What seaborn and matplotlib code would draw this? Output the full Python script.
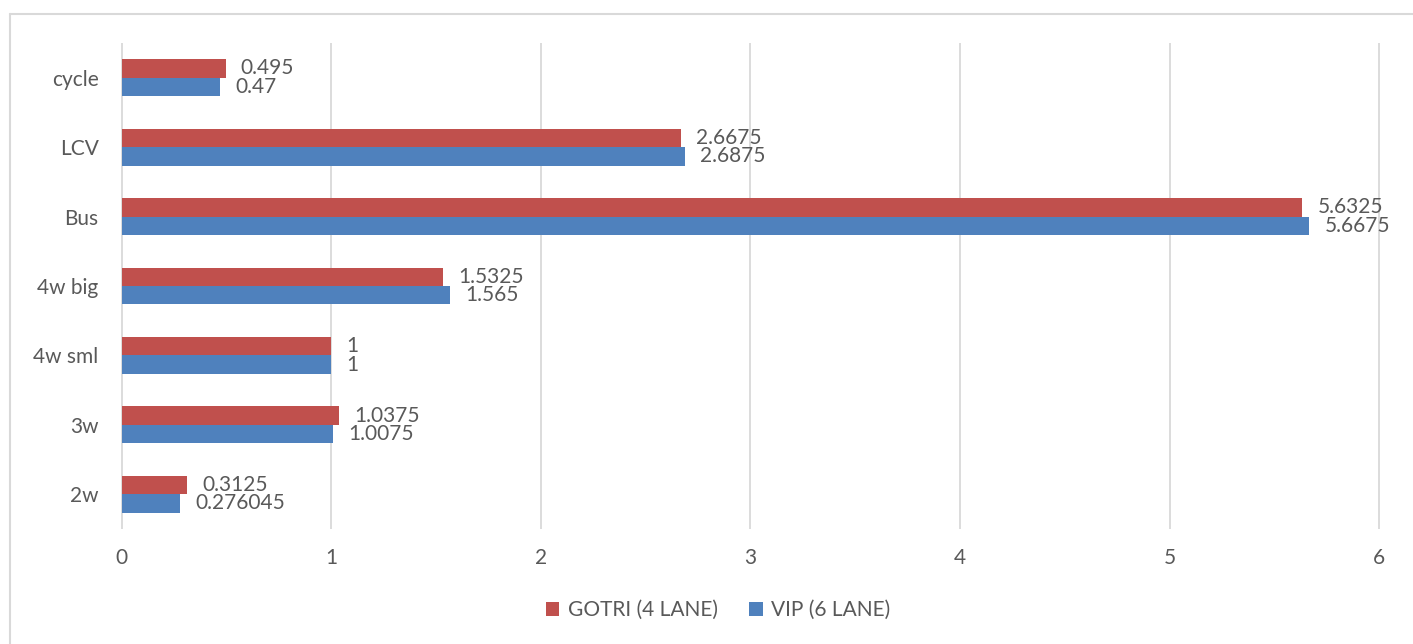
import matplotlib
matplotlib.use("Agg")
import pandas as pd
import matplotlib.pyplot as plt
import seaborn as sns
from matplotlib.lines import Line2D

# values
vehicles = ["cycle", "LCV", "Bus", "4w big", "4w sml", "3w", "2w"]
gotri_4_lane = [0.495, 2.6675, 5.6325, 1.5325, 1, 1.0375, 0.3125]
vip_6_lane = [0.47, 2.6875, 5.6675, 1.565, 1, 1.0075, 0.276045]
series = ["GOTRI (4 LANE)", "VIP (6 LANE)"]
x_ticks = [0, 1, 2, 3, 4, 5, 6]

df = pd.DataFrame({
    "vehicle": vehicles * 2,
    "value": gotri_4_lane + vip_6_lane,
    "road": [series[0]] * len(vehicles) + [series[1]] * len(vehicles),
})

sns.set_style("white")
plt.rcParams["font.family"] = ["Lato", "DejaVu Sans"]
text_grey = "#595959"
grid_grey = "#D9D9D9"

fig = plt.figure(figsize=(14.13, 6.44), dpi=100)
ax = fig.add_axes([0.0856, 0.1786, 0.891, 0.7547])
sns.barplot(data=df, x="value", y="vehicle", hue="road", order=vehicles,
            hue_order=series, palette=["#C0504D", "#4F81BD"], orient="h",
            width=0.53, gap=0, saturation=1, linewidth=0, legend=False, ax=ax)

for cont in ax.containers:
    ax.bar_label(cont, fmt="{:g}", padding=11, fontsize=15, color=text_grey)

ax.set_xlim(-0.004, 6.004)
ax.set_xticks(x_ticks)
ax.set_xlabel("")
ax.set_ylabel("")
ax.xaxis.grid(True, color=grid_grey, linewidth=1.3)
ax.set_axisbelow(True)
ax.tick_params(axis="x", length=0, labelsize=15, colors=text_grey, pad=14)
ax.tick_params(axis="y", length=0, labelsize=15, colors=text_grey, pad=16)
sns.despine(ax=ax, left=True, bottom=True)

fig.legend(handles=ax.containers, labels=series, loc="center",
           bbox_to_anchor=(718 / 1413, 1 - 610 / 644), ncol=2, frameon=False,
           fontsize=15, labelcolor=text_grey, handlelength=0.65,
           handleheight=0.65, handletextpad=0.4, columnspacing=1.5)

# chart border (left and top only visible in the crop)
fig.add_artist(Line2D([10 / 1413, 10 / 1413], [0, 1 - 14 / 644],
                      transform=fig.transFigure, color=grid_grey, lw=1.5))
fig.add_artist(Line2D([10 / 1413, 1], [1 - 14 / 644, 1 - 14 / 644],
                      transform=fig.transFigure, color=grid_grey, lw=1.5))

fig.savefig("out.png", dpi=100)
